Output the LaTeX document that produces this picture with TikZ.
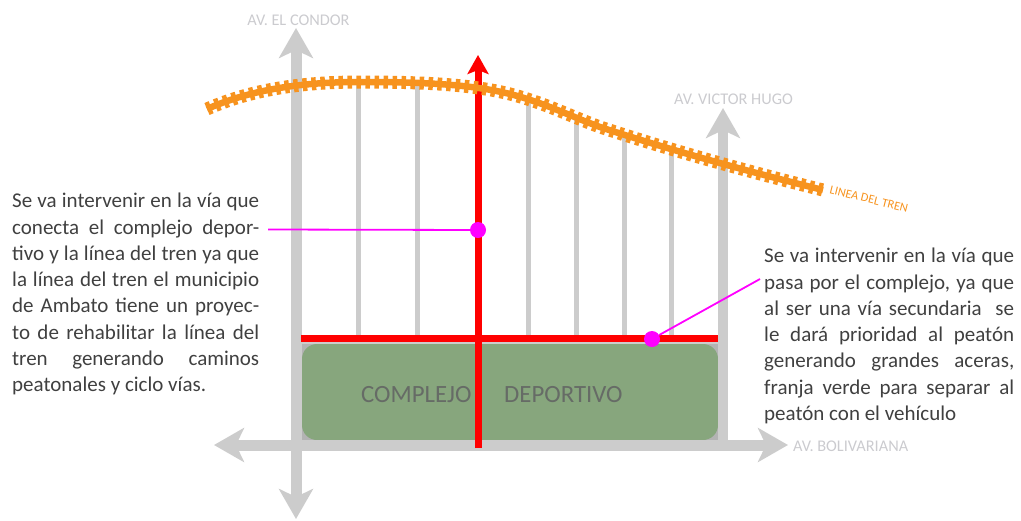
\documentclass[tikz,border=0pt]{standalone}
\usepackage{fontspec}
\setmainfont{Carlito}
\usepackage{tikz}
\usetikzlibrary{arrows.meta, positioning}
\definecolor{roadgray}{HTML}{CCCCCC}
\definecolor{cornergray}{HTML}{B3B3B3}
\definecolor{parkgreen}{HTML}{87A67D}
\definecolor{railorange}{HTML}{F7931E}
\definecolor{labelgray}{HTML}{CBCBCF}
\definecolor{bodygray}{HTML}{404040}
\definecolor{parktext}{HTML}{666B66}
\definecolor{callout}{HTML}{FF00FF}
\tikzset{
  bigtip/.tip={Stealth[length=30pt,width=34pt,inset=8pt]},
  redtip/.tip={Stealth[length=19pt,width=21pt,inset=4pt]},
  road/.style={draw=roadgray, line width=11pt, {bigtip}-{bigtip}},
  sideroad/.style={draw=roadgray, line width=5pt},
  redroad/.style={draw=red, line width=7pt},
  rail/.style={draw=railorange, line width=6.5pt},
  railties/.style={draw=railorange, line width=13pt, dash pattern=on 4.5pt off 4.5pt},
  avlabel/.style={text=labelgray, font=\fontsize{16.3}{18}\selectfont, inner sep=0pt},
  parklabel/.style={text=parktext, font=\fontsize{24.8}{28}\selectfont, inner sep=0pt},
  notetext/.style={text=bodygray, font=\fontsize{21}{26.25}\selectfont, align=justify, inner sep=0pt, anchor=north west},
  dot/.style={circle, fill=callout, minimum size=16pt, inner sep=0pt},
  leader/.style={draw=callout, line width=1.8pt}
}
\begin{document}
\begin{tikzpicture}[x=1pt,y=-1pt,line join=bevel]
  \useasboundingbox (0,0) rectangle (1021,520);
  % complejo
  \fill[cornergray] (302,344) rectangle (718,440);
  \fill[roadgray] (302,338) rectangle (718,344);
  \fill[parkgreen, rounded corners=15pt] (302,344) rectangle (718,440);
  % vias
  \draw[road] (296,519) -- (296,28);
  \draw[road] (214,445) -- (788,445);
  \draw[draw=roadgray, line width=10pt, -{bigtip}] (723,440) -- (723,108);
  \foreach \vx/\vy in {358/84, 417/85, 528/100, 576/118, 624/136, 671/150}
    \draw[sideroad] (\vx,338) -- (\vx,\vy);
  \draw[redroad] (301,338.5) -- (718,338.5);
  \draw[redroad, -{redtip}] (478,448) -- (478,55);
  % linea del tren
  \def\railpath{(207,109) .. controls (250,90) and (300,82) .. (360,82)
    .. controls (420,82) and (470,84) .. (510,94)
    .. controls (545,103) and (570,116) .. (600,127)
    .. controls (670,150) and (750,172) .. (823,190)}
  \draw[rail] \railpath;
  \draw[railties] \railpath;
  % textos
  \node[avlabel] (condor) at (298.5,20) {AV. EL CONDOR};
  \node[avlabel] (hugo) at (733.5,99) {AV. VICTOR HUGO};
  \node[avlabel, anchor=west] (boliv) at (793,446.5) {AV. BOLIVARIANA};
  \node[text=railorange, font=\fontsize{12.3}{14}\selectfont, inner sep=0pt, rotate=-14] (tren) at (869,199) {LINEA DEL TREN};
  \node[parklabel, anchor=west] (complejo) at (361,395) {COMPLEJO};
  \node[parklabel, anchor=west] (deportivo) at (504,395) {DEPORTIVO};
  \node[notetext, text width=247pt] (noteleft) at (12,193) {Se va intervenir en la vía que\linebreak
    conecta el complejo depor-\linebreak
    tivo y la línea del tren ya que\linebreak
    la línea del tren el municipio\linebreak
    de Ambato tiene un proyec-\linebreak
    to de rehabilitar la línea del\linebreak
    tren generando caminos\linebreak
    peatonales y ciclo vías.};
  \node[notetext, text width=250pt] (noteright) at (764,248) {Se va intervenir en la vía que\linebreak
    pasa por el complejo, ya que\linebreak
    al ser una vía secundaria\ \ se\linebreak
    le dará prioridad al peatón\linebreak
    generando grandes aceras,\linebreak
    franja verde para separar al\linebreak
    peatón con el vehículo};
  % llamadas
  \node[dot] (dotleft) at (478,230) {};
  \node[dot] (dotright) at (652,339) {};
  \coordinate (endleft) at (268,229.5);
  \coordinate (endright) at (760,279);
  \draw[leader] (endleft) -- (dotleft);
  \draw[leader] (endright) -- (dotright);
\end{tikzpicture}
\end{document}
